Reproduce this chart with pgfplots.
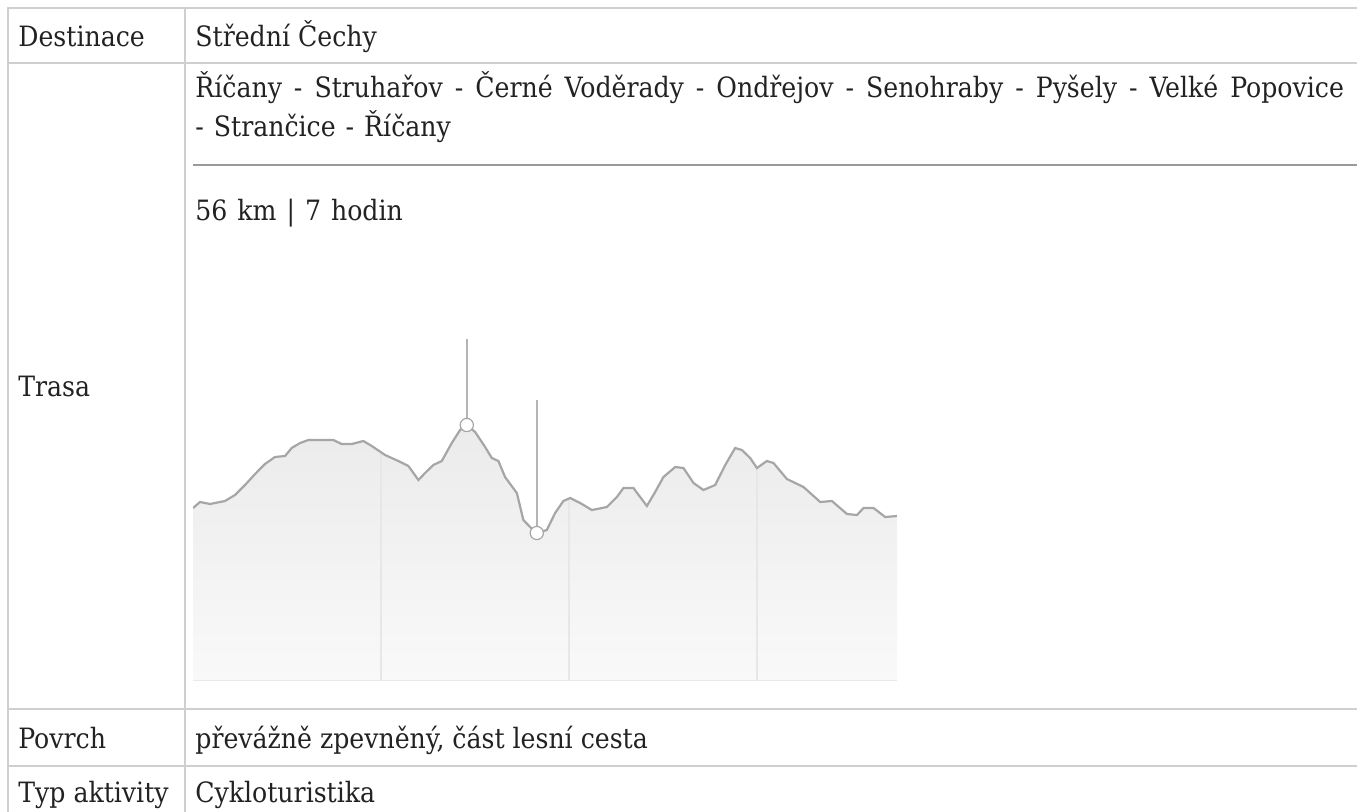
\documentclass[border=0pt]{standalone}
\usepackage{fontspec}
\setmainfont{DejaVu Serif Condensed}
\usepackage{pgfplots}
\usepackage{pgfplotstable}
\pgfplotsset{compat=1.18}
\definecolor{tblline}{HTML}{CFCFCF}
\definecolor{rule}{HTML}{9A9A9A}
\definecolor{txt}{HTML}{222222}
\definecolor{curve}{HTML}{A6A6A6}
\definecolor{stem}{HTML}{B4B4B4}
\definecolor{filltop}{HTML}{EBEBEB}
\definecolor{fillbot}{HTML}{F9F9F9}
\definecolor{gridc}{HTML}{E7E7E7}

\pgfplotstableread{
km elev
0.00 372
0.56 378
1.36 376
2.55 379
3.35 385
4.15 395
4.95 406
5.74 416
6.54 423
7.34 424
7.87 432
8.54 437
9.20 440
11.19 440
11.86 436
12.66 436
13.59 439
14.26 434
15.32 425
16.38 419
17.18 414
17.98 400
18.51 407
19.17 415
19.84 419
20.64 437
21.30 450
21.84 455
22.50 448
23.30 433
23.83 422
24.36 419
24.89 403
25.83 387
26.35 360
26.89 353
27.42 347
28.22 350
28.88 367
29.54 379
30.08 382
30.88 377
31.81 370
33.01 373
33.81 383
34.33 392
35.13 392
36.20 374
36.86 388
37.52 403
38.46 413
39.12 412
39.92 397
40.71 390
41.65 395
42.45 415
43.24 432
43.78 430
44.44 422
44.98 412
45.77 419
46.30 417
47.37 401
48.69 393
50.03 378
50.96 379
52.16 366
52.96 365
53.48 372
54.28 372
55.21 363
56.15 364
}\elev

\begin{document}
\begin{tikzpicture}
\begin{scope}[x=0.5pt,y=-0.5pt]
\useasboundingbox (0,0) rectangle (1357,811);
% table grid
\draw[tblline, line width=1pt] (1357,8) -- (8,8) -- (8,830);
\draw[tblline, line width=1pt] (185,8) -- (185,830);
\draw[tblline, line width=1pt] (8,63) -- (1357,63);
\draw[tblline, line width=1pt] (8,709) -- (1357,709);
\draw[tblline, line width=1pt] (8,766) -- (1357,766);
\draw[rule, line width=0.6pt] (193,165) -- (1357,165);
% texts
\begin{scope}[every node/.style={inner sep=0pt, text=txt, font=\fontsize{14pt}{17pt}\selectfont}]
\node[anchor=base west] at (18,46) {Destinace};
\node[anchor=base west] at (195,46) {Střední Čechy};
\node[anchor=base west] at (195,97) {\spaceskip=6pt plus 0pt minus 0pt Říčany - Struhařov - Černé Voděrady - Ondřejov - Senohraby - Pyšely - Velké Popovice};
\node[anchor=base west] at (195,136) {\spaceskip=5pt plus 0pt minus 0pt - Strančice - Říčany};
\node[anchor=base west] at (195,220) {\spaceskip=5pt plus 0pt minus 0pt 56 km | 7 hodin};
\node[anchor=base west] at (18,396) {Trasa};
\node[anchor=base west] at (18,748) {Povrch};
\node[anchor=base west] at (195,748) {převážně zpevněný, část lesní cesta};
\node[anchor=base west] at (18,802) {Typ aktivity};
\node[anchor=base west] at (195,802) {Cykloturistika};
\end{scope}
\end{scope}
\begin{axis}[
  at={(96.5pt,-340pt)}, anchor=south west,
  scale only axis, width=352pt, height=175pt,
  xmin=0, xmax=56.15, ymin=200, ymax=550,
  axis x line=bottom, axis y line=none,
  axis line style={-, draw=gridc, line width=0.75pt},
  xtick=\empty, ytick=\empty,
  clip=true,
]
\addplot[draw=none, top color=filltop, bottom color=fillbot] table[x=km,y=elev] {\elev} -- (axis cs:56.15,200) -- (axis cs:0,200) -- cycle;
\addplot[ycomb, draw=gridc, line width=0.75pt, mark=none] coordinates {(15,428) (30,382) (45,412)};
\addplot[curve, line width=1.1pt, mark=none] table[x=km,y=elev] {\elev};
\addplot[stem, line width=1pt, mark=none] coordinates {(21.84,455) (21.84,541)};
\addplot[stem, line width=1pt, mark=none] coordinates {(27.42,347) (27.42,480)};
\addplot[only marks, mark=*, mark size=3.3pt, mark options={fill=white, draw=curve, line width=0.6pt}] coordinates {(21.84,455) (27.42,347)};
\end{axis}
\end{tikzpicture}
\end{document}
